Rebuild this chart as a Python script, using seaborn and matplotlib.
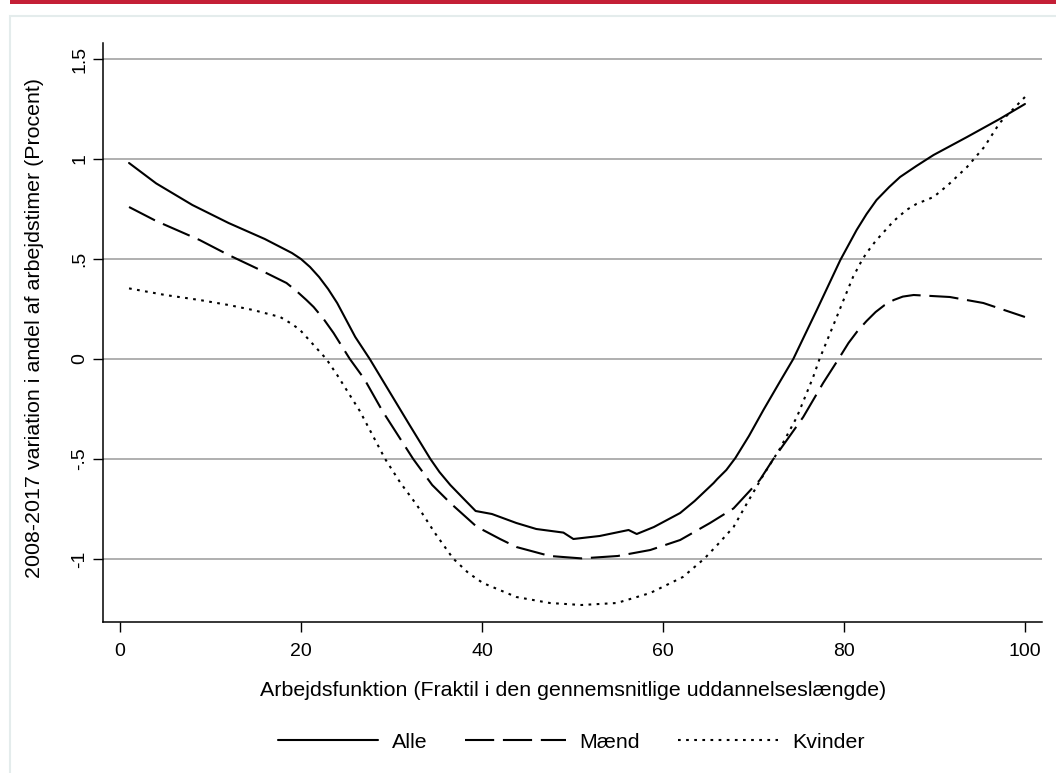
import matplotlib
matplotlib.use("Agg")
import matplotlib.pyplot as plt
from matplotlib.patches import Rectangle
from matplotlib.ticker import FixedLocator, FixedFormatter
import seaborn as sns
import pandas as pd

# ---- data ----
alle_x = [1, 4, 8, 12, 16, 17.5, 19, 20, 21, 22, 23, 24, 25, 26, 27.6, 30, 32, 34.3, 35.3,
          36.5, 38, 39.3, 41.1, 43.8, 46, 49, 50.1, 53, 56.2, 57.1, 59, 61.9, 63.5, 65.6, 66,
          67, 68, 69.5, 71.1, 72.9, 74.4, 77, 79.6, 80.5, 81.4, 82.5, 83.6, 85, 86.2, 88,
          89.9, 93.6, 97.2, 100]
alle_y = [0.98, 0.878, 0.77, 0.68, 0.60, 0.565, 0.53, 0.50, 0.46, 0.41, 0.35, 0.28, 0.195,
          0.11, 0.0, -0.18, -0.33, -0.5, -0.565, -0.63, -0.70, -0.76, -0.775, -0.82, -0.85,
          -0.868, -0.90, -0.885, -0.855, -0.875, -0.84, -0.77, -0.71, -0.62, -0.60, -0.555,
          -0.495, -0.385, -0.255, -0.115, 0.0, 0.245, 0.495, 0.57, 0.645, 0.725, 0.795,
          0.86, 0.91, 0.965, 1.02, 1.11, 1.2, 1.275]

maend_x = [1, 4, 8.8, 12, 15.5, 18.4, 19.5, 20.6, 21.4, 22.5, 23.6, 25.4, 27, 29, 32.4,
           34.5, 36.5, 39.4, 42, 43.8, 47.5, 51, 55, 58.6, 61.9, 65.2, 67.8, 70.7, 72.2,
           75.5, 77.7, 79.4, 80.5, 81.5, 82.5, 83.5, 84.5, 85.5, 86.5, 87.7, 91.7, 95.4, 100]
maend_y = [0.76, 0.69, 0.595, 0.52, 0.445, 0.38, 0.34, 0.295, 0.26, 0.20, 0.13, 0.0, -0.10,
           -0.26, -0.5, -0.63, -0.72, -0.838, -0.90, -0.94, -0.985, -0.997, -0.985, -0.955,
           -0.905, -0.82, -0.747, -0.605, -0.5, -0.29, -0.12, 0.0, 0.08, 0.14, 0.19, 0.235,
           0.27, 0.295, 0.312, 0.32, 0.31, 0.28, 0.21]

kvinder_x = [1, 5, 8.8, 12, 14.7, 17.7, 19, 19.9, 21, 22, 22.8, 24, 26.5, 29.3, 31, 32.8,
             34.8, 36.8, 38.5, 40.1, 43.8, 47.5, 51, 54.9, 58.6, 62.2, 64.6, 66, 67.8, 69.3,
             71.1, 72.9, 74.8, 76.6, 77.3, 79.2, 80, 81, 82, 82.5, 83.5, 84.3, 85.5, 86.9,
             88, 89.9, 91.5, 93.6, 95.5, 97.2, 100]
kvinder_y = [0.353, 0.32, 0.295, 0.27, 0.245, 0.21, 0.175, 0.145, 0.09, 0.04, 0.0, -0.08,
             -0.26, -0.5, -0.62, -0.73, -0.87, -0.997, -1.07, -1.12, -1.19, -1.22, -1.23,
             -1.22, -1.17, -1.09, -0.997, -0.93, -0.84, -0.72, -0.58, -0.45, -0.29, -0.09,
             0.0, 0.21, 0.30, 0.41, 0.495, 0.53, 0.59, 0.63, 0.69, 0.745, 0.775, 0.81, 0.87,
             0.96, 1.06, 1.18, 1.31]

series_names = ["Alle", "Mænd", "Kvinder"]
y_ticks = [-1, -0.5, 0, 0.5, 1, 1.5]
y_tick_labels = ["-1", "-.5", "0", ".5", "1", "1.5"]
x_ticks = [0, 20, 40, 60, 80, 100]
x_tick_labels = ["0", "20", "40", "60", "80", "100"]
x_label = "Arbejdsfunktion (Fraktil i den gennemsnitlige uddannelseslængde)"
y_label = "2008-2017 variation i andel af arbejdstimer (Procent)"

df = pd.concat([
    pd.DataFrame({"x": alle_x, "y": alle_y, "serie": series_names[0]}),
    pd.DataFrame({"x": maend_x, "y": maend_y, "serie": series_names[1]}),
    pd.DataFrame({"x": kvinder_x, "y": kvinder_y, "serie": series_names[2]}),
], ignore_index=True)

# ---- style ----
sns.set_theme(style="white")
plt.rcParams["font.family"] = ["Liberation Sans", "DejaVu Sans"]
plt.rcParams["text.color"] = "black"
plt.rcParams["axes.labelcolor"] = "black"
plt.rcParams["xtick.color"] = "black"
plt.rcParams["ytick.color"] = "black"

W, H = 1056, 773
fig = plt.figure(figsize=(W / 100, H / 100), dpi=100)
fig.patch.set_facecolor("white")

# top red bar and light panel frame
fig.patches.append(Rectangle((10 / W, 1 - 4 / H), 1 - 10 / W, 4 / H, transform=fig.transFigure,
                             facecolor="#c41f36", edgecolor="none", zorder=0))
fig.patches.append(Rectangle((10 / W, -0.1), 1.2, 1 - 16 / H + 0.1, transform=fig.transFigure,
                             facecolor="none", edgecolor="#e4ecec", linewidth=1.5, zorder=0))

left, right, top, bottom = 102.7, 1041.7, 42.7, 622.3
ax = fig.add_axes([left / W, 1 - bottom / H, (right - left) / W, (bottom - top) / H])
ax.set_facecolor("none")

sns.lineplot(data=df, x="x", y="y", style="serie", style_order=series_names,
             dashes={"Alle": "", "Mænd": (14, 4.2), "Kvinder": (1.3, 2.6)},
             color="black", linewidth=1.5, estimator=None, sort=False, legend=False, ax=ax)

ax.set_xlim(-1.91, 101.85)
ax.set_ylim(-1.3165, 1.5815)

ax.xaxis.set_major_locator(FixedLocator(x_ticks))
ax.xaxis.set_major_formatter(FixedFormatter(x_tick_labels))
ax.yaxis.set_major_locator(FixedLocator(y_ticks))
ax.yaxis.set_major_formatter(FixedFormatter(y_tick_labels))

ax.grid(axis="y", color="#9a9a9a", linewidth=1.1)
ax.grid(axis="x", visible=False)
ax.set_axisbelow(True)

for s in ["top", "right"]:
    ax.spines[s].set_visible(False)
for s in ["left", "bottom"]:
    ax.spines[s].set_color("black")
    ax.spines[s].set_linewidth(1.1)

ax.tick_params(axis="both", which="major", direction="out", length=7.2, width=1.0,
               labelsize=14, bottom=True, left=True)
ax.tick_params(axis="x", pad=7.6)
for lab in ax.get_yticklabels():
    lab.set_rotation(90)
    lab.set_va("center")
    lab.set_ha("center")
ax.tick_params(axis="y", pad=9.3)

ax.set_xlabel(x_label, fontsize=15.4, va="center")
ax.xaxis.set_label_coords(0.5009, (bottom - 690) / (bottom - top))
ax.set_ylabel(y_label, fontsize=15.4, va="center")
ax.yaxis.set_label_coords((35 - left) / (right - left), (bottom - 327.5) / (bottom - top))

handles = ax.lines[:3]
fig.legend(handles, series_names, loc="center", bbox_to_anchor=(571 / W, 1 - 742 / H),
           ncol=3, frameon=False, fontsize=15.4, handlelength=4.7, handletextpad=0.65,
           columnspacing=1.75, borderaxespad=0)

fig.savefig("out.png", dpi=100, facecolor="white")
